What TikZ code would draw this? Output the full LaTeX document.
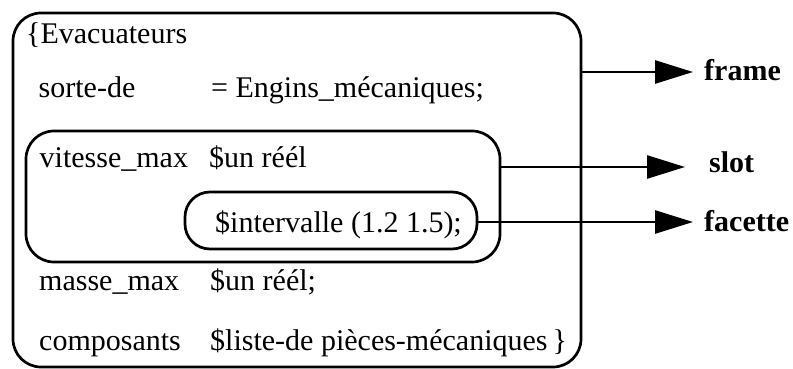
\documentclass[tikz,border=0pt]{standalone}
\usepackage{fontspec}
\setmainfont{Liberation Serif}
\usetikzlibrary{arrows.meta}
\begin{document}
\begin{tikzpicture}[x=1pt,y=-1pt,
  box/.style={draw, line width=2.7pt, anchor=north west, inner sep=0pt, outer sep=0pt},
  txt/.style={anchor=base west, inner sep=0pt, font=\fontsize{30}{34}\selectfont},
  lbl/.style={anchor=base west, inner sep=0pt, font=\fontsize{30}{34}\selectfont\bfseries},
  arr/.style={line width=2.7pt, -{Triangle[length=38pt,width=23pt]}}]
\useasboundingbox (0,0) rectangle (793,369);
% boxes
\node[box, rounded corners=28pt, minimum width=568pt, minimum height=354pt] (frame) at (13,13) {};
\node[box, rounded corners=28pt, minimum width=474pt, minimum height=131pt] (slot) at (26,131) {};
\node[box, rounded corners=25pt, minimum width=292pt, minimum height=57pt] (facette) at (185,192) {};
% texts
\node[txt] (t1) at (26,44) {\{Evacuateurs};
\node[txt] (t2a) at (38.5,98) {sorte-de};
\node[txt] (t2b) at (211,98) {= Engins\_mécaniques;};
\node[txt] (t3a) at (39.5,167) {vitesse\_max};
\node[txt] (t3b) at (209,167) {\$un réél};
\node[txt] (t4) at (215,232) {\$intervalle (1.2 1.5);};
\node[txt] (t5a) at (39,290) {masse\_max};
\node[txt] (t5b) at (210,290) {\$un réél;};
\node[txt] (t6a) at (39,350) {composants};
\node[txt] (t6b) at (210,350) {\$liste-de pièces-mécaniques\,\}};
% labels
\node[lbl] (lf) at (704,81) {frame};
\node[lbl] (ls) at (709,172) {slot};
\node[lbl] (lc) at (704,231) {facette};
% arrow ends
\coordinate (af) at (693,72);
\coordinate (as) at (685,167);
\coordinate (ac) at (693,222);
\draw[arr] (frame.east |- af) -- (af);
\draw[arr] (slot.east |- as) -- (as);
\draw[arr] (facette.east |- ac) -- (ac);
\end{tikzpicture}
\end{document}
